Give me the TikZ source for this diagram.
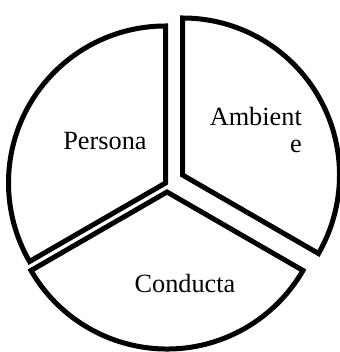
\documentclass[tikz,border=0pt]{standalone}
\usepackage{fontspec}
\setmainfont{Liberation Serif}
\begin{document}
\begin{tikzpicture}[x=1pt,y=1pt,
  sector/.style={draw=black,line width=5pt,fill=white,line join=miter},
  lbl/.style={font=\fontsize{26.3}{27.5}\selectfont,inner sep=0pt,text=black}]
\useasboundingbox (0,0) rectangle (339,352);
% Persona sector
\coordinate (P) at (165.5,169);
\draw[sector] (P) -- ++(90:157) arc[start angle=90,end angle=210,radius=157] -- cycle;
% Ambiente sector
\coordinate (A) at (182.5,177);
\draw[sector] (A) -- ++(90:157) arc[start angle=90,end angle=-30,radius=157] -- cycle;
% Conducta sector
\coordinate (C) at (167,160);
\draw[sector] (C) -- ++(210:157) arc[start angle=210,end angle=330,radius=157] -- cycle;
% labels
\node[lbl,anchor=base] (persona) at (105,202) {Persona};
\node[lbl,anchor=north east,align=right] (ambiente) at (302,245) {Ambient\\e};
\node[lbl,anchor=base] (conducta) at (185,59) {Conducta};
\end{tikzpicture}
\end{document}
